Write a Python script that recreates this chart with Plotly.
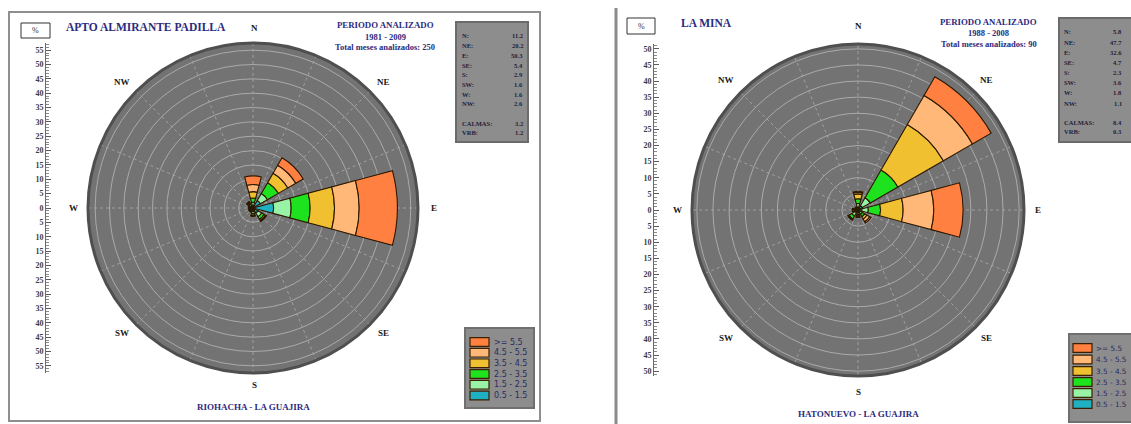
import plotly.graph_objects as go

W, H = 1131, 424

# ---------------- data ----------------
directions = ["N", "NE", "E", "SE", "S", "SW", "W", "NW"]
dir_angles = [0, 45, 90, 135, 180, 225, 270, 315]
speed_classes = ["0.5 - 1.5", "1.5 - 2.5", "2.5 - 3.5", "3.5 - 4.5", "4.5 - 5.5", ">= 5.5"]
class_colors = ["#1fb0c2", "#98f3a6", "#1fe21f", "#f0c030", "#ffb877", "#ff8040"]

# Left: APTO ALMIRANTE PADILLA (percent per speed class, per direction N..NW)
left_c1 = [0.8, 3.0, 7.2, 2.0, 1.2, 0.7, 0.7, 1.0]
left_c2 = [1.2, 2.8, 6.1, 1.5, 0.8, 0.4, 0.4, 0.7]
left_c3 = [1.5, 4.4, 6.6, 1.0, 0.5, 0.3, 0.3, 0.5]
left_c4 = [2.2, 3.8, 8.5, 0.5, 0.2, 0.1, 0.1, 0.2]
left_c5 = [2.5, 3.2, 8.6, 0.3, 0.1, 0.05, 0.05, 0.1]
left_c6 = [3.0, 3.0, 13.3, 0.1, 0.1, 0.05, 0.05, 0.1]
left_totals = [11.2, 20.2, 50.3, 5.4, 2.9, 1.6, 1.6, 2.6]
left_calmas = 3.2
left_vrb = 1.2
left_ticks = [0, 5, 10, 15, 20, 25, 30, 35, 40, 45, 50, 55]

# Right: LA MINA
right_c1 = [0.8, 1.5, 1.2, 0.8, 0.8, 1.0, 0.7, 0.4]
right_c2 = [1.2, 2.9, 2.0, 0.8, 0.6, 1.2, 0.5, 0.3]
right_c3 = [1.5, 9.9, 3.8, 0.8, 0.4, 1.0, 0.3, 0.2]
right_c4 = [1.5, 16.3, 7.0, 0.8, 0.3, 0.3, 0.2, 0.1]
right_c5 = [0.5, 10.4, 9.5, 1.0, 0.1, 0.05, 0.05, 0.05]
right_c6 = [0.3, 6.7, 9.1, 0.5, 0.1, 0.05, 0.05, 0.05]
right_totals = [5.8, 47.7, 32.6, 4.7, 2.3, 3.6, 1.8, 1.1]
right_calmas = 8.4
right_vrb = 0.3
right_ticks = [0, 5, 10, 15, 20, 25, 30, 35, 40, 45, 50]

# ---------------- helpers ----------------
def px(x):
    return x / W

def py(y):
    return 1 - y / H

NAVY = "#2b2b80"
SERIF = "Liberation Serif"

panels = [
    dict(polar="polar", xa="x", ya="y", xkey="xaxis", ykey="yaxis",
         classes=[left_c1, left_c2, left_c3, left_c4, left_c5, left_c6],
         totals=left_totals, calmas=left_calmas, vrb=left_vrb, ticks=left_ticks,
         cx=253, cy=208, r=165, rmax=57.5, axis_x=45,
         title="APTO ALMIRANTE PADILLA", title_x=64, title_y=27,
         period="1981 - 2009", months=250, per_x=385, per_y=25,
         place="RIOHACHA - LA GUAJIRA", place_y=407,
         pct_box=(21, 23, 50, 38),
         stats_box=(456, 22, 528, 142), stats_lx=460, stats_rx=525,
         stats_rows=[36, 45.7, 55.4, 65.1, 74.8, 84.5, 94.2, 104], stats_calm_y=(123, 133),
         leg_box=(465, 328, 534, 408), leg_sx=470, leg_tx=492, leg_size=8,
         leg_rows=[342, 352.7, 363.3, 374, 384.7, 395.5],
         labels={"N": (254, 28), "NE": (383, 82), "E": (434, 208), "SE": (383, 333),
                 "S": (254, 385), "SW": (122, 333), "W": (73, 208), "NW": (122, 82)}),
    dict(polar="polar2", xa="x2", ya="y2", xkey="xaxis2", ykey="yaxis2",
         classes=[right_c1, right_c2, right_c3, right_c4, right_c5, right_c6],
         totals=right_totals, calmas=right_calmas, vrb=right_vrb, ticks=right_ticks,
         cx=858, cy=210, r=166, rmax=51.5, axis_x=653,
         title="LA MINA", title_x=679, title_y=23,
         period="1988 - 2008", months=90, per_x=989, per_y=22,
         place="HATONUEVO - LA GUAJIRA", place_y=414,
         pct_box=(627, 18, 655, 34),
         stats_box=(1059, 18, 1134, 142), stats_lx=1062, stats_rx=1124,
         stats_rows=[32, 42.1, 52.3, 62.4, 72.6, 82.7, 92.9, 103], stats_calm_y=(122, 131),
         leg_box=(1069, 334, 1134, 422), leg_sx=1073, leg_tx=1094, leg_size=7.3,
         leg_rows=[348, 359.5, 371, 382, 393, 404],
         labels={"N": (858, 26), "NE": (986, 80), "E": (1038, 210), "SE": (986, 338),
                 "S": (858, 392), "SW": (726, 338), "W": (677, 210), "NW": (726, 80)}),
]

fig = go.Figure()
shapes = []
annotations = []
layout = {}


def ann(x, y, text, size, color=NAVY, xanchor="center", weight="bold", family=SERIF):
    annotations.append(dict(x=px(x), y=py(y), xref="paper", yref="paper", text=text,
                            showarrow=False, xanchor=xanchor, yanchor="middle",
                            font=dict(family=family, size=size, color=color, weight=weight)))


def rect(box, fill="rgba(0,0,0,0)", line="#000", lw=1):
    x0, y0, x1, y1 = box
    shapes.append(dict(type="rect", xref="paper", yref="paper",
                       x0=px(x0), x1=px(x1), y0=py(y1), y1=py(y0),
                       fillcolor=fill, line=dict(color=line, width=lw), layer="above"))


for p in panels:
    # wind rose bars
    for cls, col, name in zip(p["classes"], class_colors, speed_classes):
        fig.add_trace(go.Barpolar(
            r=cls, theta=dir_angles, width=[30] * len(dir_angles), name=name,
            subplot=p["polar"], showlegend=False,
            marker=dict(color=col, line=dict(color="#2a1800", width=1.1)),
            hovertemplate="%{theta}: %{r}%<extra>" + name + "</extra>"))

    cx, cy, r, rmax = p["cx"], p["cy"], p["r"], p["rmax"]
    layout[p["polar"]] = dict(
        domain=dict(x=[px(cx - r), px(cx + r)], y=[py(cy + r), py(cy - r)]),
        bgcolor="#737373", barmode="stack",
        radialaxis=dict(range=[0, rmax], tickvals=[t for t in p["ticks"] if t > 0],
                        showticklabels=False, ticks="", showline=False,
                        gridcolor="#aaaaaa", gridwidth=1),
        angularaxis=dict(direction="clockwise", rotation=90, tickmode="linear",
                         tick0=0, dtick=22.5, showticklabels=False, ticks="",
                         gridcolor="#a0a0a0", griddash="dot",
                         linecolor="#4f4f4f", linewidth=3))

    # vertical % scale
    tv = [-t for t in reversed(p["ticks"][1:])] + p["ticks"]
    tt = [str(abs(v)) for v in tv]
    fig.add_trace(go.Scatter(x=[0] * len(tv), y=tv, mode="markers",
                             marker=dict(opacity=0), hoverinfo="skip", showlegend=False,
                             xaxis=p["xa"], yaxis=p["ya"]))
    layout[p["xkey"]] = dict(visible=False, domain=[px(p["axis_x"]), px(p["axis_x"] + 2)],
                             range=[-1, 1], fixedrange=True)
    layout[p["ykey"]] = dict(domain=[py(cy + r), py(cy - r)], range=[-rmax, rmax],
                             anchor="free", position=px(p["axis_x"]),
                             tickvals=tv, ticktext=tt, ticks="inside", ticklen=5,
                             tickcolor="#5a5a5a", showline=True, linecolor="#6a6a6a",
                             linewidth=1, showgrid=False, zeroline=False, fixedrange=True,
                             minor=dict(dtick=1, ticks="inside", ticklen=2.5,
                                        tickcolor="#8a8a8a", showgrid=False),
                             tickfont=dict(family=SERIF, size=8, color="#3c3c3c",
                                           weight="bold"))

    # % box
    rect(p["pct_box"], fill="white", line="#333", lw=1)
    bx0, by0, bx1, by1 = p["pct_box"]
    ann((bx0 + bx1) / 2, (by0 + by1) / 2, "%", 8, color="#333", weight="normal")

    # titles
    ann(p["title_x"], p["title_y"], p["title"], 11.5, xanchor="left")
    ann(p["per_x"], p["per_y"], "PERIODO ANALIZADO", 8.8)
    ann(p["per_x"], p["per_y"] + 11.5, p["period"], 8.5)
    ann(p["per_x"], p["per_y"] + 22, "Total meses analizados: %d" % p["months"], 8.5)
    ann(cx, p["place_y"], p["place"], 9)

    # direction labels
    for d in directions:
        lx, ly = p["labels"][d]
        ann(lx, ly, d, 9, color="#1a1a1a")

    # stats box
    rect(p["stats_box"], fill="#8d8d8d", line="#6b6b6b", lw=2)
    for d, v, yy in zip(directions, p["totals"], p["stats_rows"]):
        ann(p["stats_lx"], yy, d + ":", 6.5, color="#1e1e3c", xanchor="left")
        ann(p["stats_rx"], yy, "%.1f" % v, 6.5, color="#1e1e3c", xanchor="right")
    ann(p["stats_lx"], p["stats_calm_y"][0], "CALMAS:", 6.5, color="#1e1e3c", xanchor="left")
    ann(p["stats_rx"], p["stats_calm_y"][0], "%.1f" % p["calmas"], 6.5, color="#1e1e3c", xanchor="right")
    ann(p["stats_lx"], p["stats_calm_y"][1], "VRB:", 6.5, color="#1e1e3c", xanchor="left")
    ann(p["stats_rx"], p["stats_calm_y"][1], "%.1f" % p["vrb"], 6.5, color="#1e1e3c", xanchor="right")

    # legend
    rect(p["leg_box"], fill="#8d8d8d", line="#6f6f6f", lw=2)
    for name, col, yy in zip(reversed(speed_classes), reversed(class_colors), p["leg_rows"]):
        rect((p["leg_sx"], yy - 4.3, p["leg_sx"] + 19, yy + 4.3), fill=col, line="#3a2000", lw=1.2)
        ann(p["leg_tx"], yy, name, p["leg_size"], color="#2a2a60", xanchor="left",
            weight="normal", family="DejaVu Sans")

# panel frames
rect((9, 12, 540, 421), line="#8f8f8f", lw=2)
shapes.append(dict(type="line", xref="paper", yref="paper", x0=px(616), x1=px(616),
                   y0=py(424), y1=py(8), line=dict(color="#8a8a8a", width=3)))

fig.update_layout(**layout)
fig.update_layout(width=W, height=H, margin=dict(l=0, r=0, t=0, b=0),
                  paper_bgcolor="white", plot_bgcolor="white",
                  shapes=shapes, annotations=annotations, showlegend=False)

fig.write_html("out.html",
               config={"displayModeBar": False},
               post_script="document.body.style.margin='0';"
                           "document.body.style.overflow='hidden';")
